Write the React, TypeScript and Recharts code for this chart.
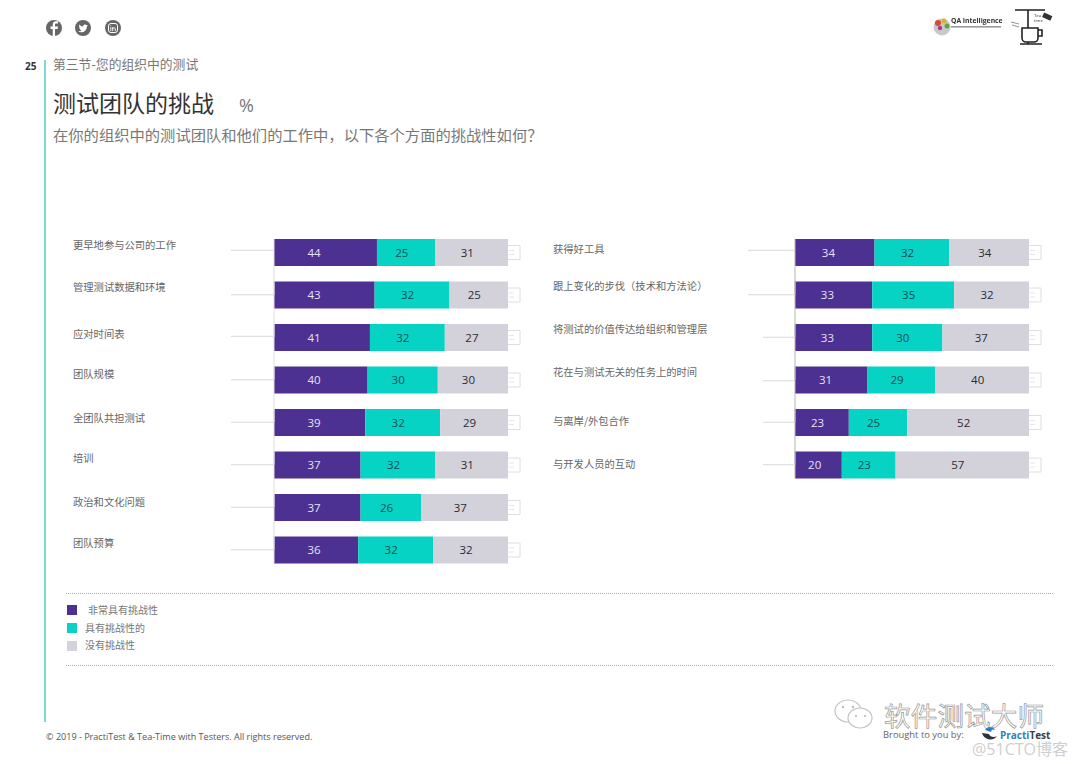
import React from "react"
import { Bar, BarChart, LabelList, Rectangle, XAxis, YAxis } from "recharts"

const seriesNames = ["非常具有挑战性", "具有挑战性的", "没有挑战性"]
const seriesColors = ["#4d3192", "#06d3c3", "#d3d2da"]
const labelColors = ["#e6e2f2", "#0e4f55", "#2b2b33"]

const leftCategories = [
  "更早地参与公司的工作",
  "管理测试数据和环境",
  "应对时间表",
  "团队规模",
  "全团队共担测试",
  "培训",
  "政治和文化问题",
  "团队预算",
]
const leftVery = [44, 43, 41, 40, 39, 37, 37, 36]
const leftSome = [25, 32, 32, 30, 32, 32, 26, 32]
const leftNot = [31, 25, 27, 30, 29, 31, 37, 32]

const rightCategories = [
  "获得好工具",
  "跟上变化的步伐（技术和方法论）",
  "将测试的价值传达给组织和管理层",
  "花在与测试无关的任务上的时间",
  "与离岸/外包合作",
  "与开发人员的互动",
]
const rightVery = [34, 33, 33, 31, 23, 20]
const rightSome = [32, 35, 30, 29, 25, 23]
const rightNot = [34, 32, 37, 40, 52, 57]

// category labels and leader lines sit a little off the bar centre in the original
const leftLabelNudge = [-7, -7, -3, -5, -4, -6, -5, -6]
const leftLineNudge = [-2, 0, -1, 0, 0, 0, 0, 0]
const leftLineLength = [43, 43, 43, 43, 43, 43, 43, 43]
const rightLabelNudge = [-3, -8, -8, -7, -1, 0]
const rightLineNudge = [-2, 0, 0, 1, 0, 0]
const rightLineLength = [47, 47, 32, 32, 32, 32]

const toRows = (names: string[], very: number[], some: number[], not: number[]) =>
  names.map((name, i) => ({ name, very: very[i], some: some[i], not: not[i] }))

const leftRows = toRows(leftCategories, leftVery, leftSome, leftNot)
const rightRows = toRows(rightCategories, rightVery, rightSome, rightNot)

const cjk = '"Noto Sans CJK SC", "Noto Sans", sans-serif'
const latin = '"Open Sans", "Noto Sans", sans-serif'

const BAND = 42.5

const CategoryTick = ({ x, y, index, payload, textBack, labelNudge, lineNudge, lineLength, axisColor, count }: any) => (
  <g>
    {/* the axis only runs from the first bar to the last one */}
    <line
      x1={x}
      x2={x}
      y1={y - 13.5}
      y2={index === count - 1 ? y + 13.5 : y + BAND}
      stroke={axisColor}
      strokeWidth={1}
    />
    <line
      x1={x - lineLength[index]}
      x2={x}
      y1={y + lineNudge[index]}
      y2={y + lineNudge[index]}
      stroke="#d8d8d8"
      strokeWidth={1}
    />
    <text
      x={x - textBack}
      y={y + labelNudge[index]}
      dy="0.35em"
      fontSize={10.3}
      fontFamily={cjk}
      fill="#666"
    >
      {payload.value}
    </text>
  </g>
)

// the last segment carries the small empty callout box at the bar's end
const EndBar = (props: any) => {
  const { x, y, width, height, fill } = props
  const end = x + width
  const mid = y + height / 2
  return (
    <g>
      <path
        d={`M${end} ${mid - 7}H${end + 12}V${mid + 7}H${end}`}
        fill="#fff"
        stroke="#dedede"
        strokeWidth={1}
      />
      <path d={`M${end + 1} ${mid - 2}H${end + 6}M${end + 1} ${mid + 2}H${end + 6}`} stroke="#e6e6e6" />
      <Rectangle x={x} y={y} width={width} height={height} fill={fill} />
    </g>
  )
}

const makeValueLabel = (series: number, firstAnchor: (w: number) => number) => (props: any) => {
  const { x, y, width, height, value } = props
  const cx = series === 0 ? x + firstAnchor(width) : x + width / 2 - 4.5
  return (
    <text
      x={cx}
      y={y + height / 2}
      dy="0.36em"
      textAnchor="middle"
      fontSize={11.5}
      fontFamily={latin}
      fill={labelColors[series]}
    >
      {value}
    </text>
  )
}

const StackChart = ({ rows, left, top, width, axisWidth, marginRight, textBack, labelNudge, lineNudge, lineLength, axisColor, firstAnchor }: any) => (
  <div style={{ position: "absolute", left, top }}>
    <BarChart
      width={width}
      height={rows.length * BAND}
      data={rows}
      layout="vertical"
      margin={{ top: 0, right: marginRight, bottom: 0, left: 0 }}
    >
      <XAxis type="number" hide domain={[0, 100]} />
      <YAxis
        type="category"
        dataKey="name"
        width={axisWidth}
        interval={0}
        tickLine={false}
        tickSize={0}
        tickMargin={0}
        axisLine={false}
        tick={(p: any) => (
          <CategoryTick
            {...p}
            textBack={textBack}
            labelNudge={labelNudge}
            lineNudge={lineNudge}
            lineLength={lineLength}
            axisColor={axisColor}
            count={rows.length}
          />
        )}
      />
      <Bar dataKey="very" stackId="a" barSize={27} fill={seriesColors[0]} isAnimationActive={false}>
        <LabelList dataKey="very" content={makeValueLabel(0, firstAnchor)} />
      </Bar>
      <Bar dataKey="some" stackId="a" barSize={27} fill={seriesColors[1]} isAnimationActive={false}>
        <LabelList dataKey="some" content={makeValueLabel(1, firstAnchor)} />
      </Bar>
      <Bar dataKey="not" stackId="a" barSize={27} fill={seriesColors[2]} shape={EndBar} isAnimationActive={false}>
        <LabelList dataKey="not" content={makeValueLabel(2, firstAnchor)} />
      </Bar>
    </BarChart>
  </div>
)

const Txt = ({ x, y, size, color, font, weight, children, extra }: any) => (
  <div
    style={{
      position: "absolute",
      left: x,
      top: y,
      fontSize: size,
      color,
      fontFamily: font || cjk,
      fontWeight: weight || 400,
      lineHeight: 1,
      whiteSpace: "nowrap",
      transform: "translateY(-50%)",
      ...extra,
    }}
  >
    {children}
  </div>
)

const SocialIcons = () => (
  <svg style={{ position: "absolute", left: 0, top: 0 }} width={140} height={50}>
    <circle cx={54} cy={28} r={8} fill="#666" />
    <path d="M55 36v-7h2.6l.4-2.6h-3v-1.6c0-.8.3-1.2 1.3-1.2H58v-2.3c-.4 0-1.2-.1-2-.1-2 0-3.3 1.2-3.3 3.4v1.8h-2.2V29h2.2v7z" fill="#fff" />
    <circle cx={83} cy={28} r={8} fill="#666" />
    <path d="M78 31.5c3.6 1.8 8.6.6 9-5.2l1-1.2-1.3.2c-.9-1.4-3.4-1-3.6 1.1-1.5 0-2.8-.7-3.8-1.9-.5 1.1-.2 2.2.6 2.9l-.8-.2c0 1 .7 1.8 1.6 2.1l-.8.1c.3.7 1 1.2 1.8 1.2-1 .7-2.2.9-3.7.9z" fill="#fff" />
    <circle cx={113} cy={28} r={8} fill="#666" />
    <rect x={108.5} y={23.5} width={9} height={9} rx={2.4} fill="none" stroke="#fff" strokeWidth={1} />
    <path d="M110.8 27v4M110.8 25.2v.6M112.7 31v-4M112.7 28.6c.5-1.2 2.6-1.2 2.6.4v2" fill="none" stroke="#fff" strokeWidth={0.9} />
  </svg>
)

const TopLogos = () => (
  <svg style={{ position: "absolute", left: 925, top: 0, filter: "blur(0.5px)" }} width={135} height={52}>
    <circle cx={17} cy={27} r={8.5} fill="#c9c9c9" />
    <circle cx={13} cy={23} r={3} fill="#d84a3a" />
    <circle cx={19} cy={21} r={2.5} fill="#e0b030" />
    <circle cx={22} cy={26} r={2.5} fill="#5aa84a" />
    <circle cx={15} cy={28} r={2.2} fill="#b03a8a" />
    <text x={26} y={23} fontSize={6.8} fontWeight={700} fontFamily={latin} fill="#333">QA Intelligence</text>
    <rect x={26} y={26} width={50} height={1.6} fill="#999" />
    <path d="M90 10h30M103 10v34M95 44h22" stroke="#222" strokeWidth={1.6} fill="none" />
    <path d="M97 28h16v10a4 4 0 0 1-4 4h-8a4 4 0 0 1-4-4zM113 30h4v6h-4" stroke="#222" strokeWidth={1.6} fill="#fff" />
    <path d="M86 22l8 2M87 25l7 2" stroke="#999" strokeWidth={1.2} />
    <text x={109} y={17} fontSize={4.2} fill="#333" fontFamily={latin}>Tea</text>
    <text x={109} y={22} fontSize={4.2} fill="#333" fontFamily={latin}>time</text>
    <rect x={118} y={14} width={9} height={5} fill="#333" transform="rotate(25 122 16)" />
  </svg>
)

const Watermark = () => (
  <>
    <svg style={{ position: "absolute", left: 830, top: 695 }} width={48} height={42}>
      <ellipse cx={18} cy={16} rx={13} ry={11} fill="#fff" stroke="#c4c4c4" strokeWidth={1.2} />
      <ellipse cx={30} cy={23} rx={12} ry={10} fill="#fff" stroke="#c4c4c4" strokeWidth={1.2} />
      <circle cx={13} cy={12} r={1.2} fill="#bbb" />
      <circle cx={23} cy={12} r={1.2} fill="#bbb" />
      <circle cx={26} cy={21} r={1.1} fill="#bbb" />
      <circle cx={35} cy={21} r={1.1} fill="#bbb" />
    </svg>
    <Txt x={884} y={715} size={26.5} color="#fff" extra={{ WebkitTextStroke: "0.7px #999", letterSpacing: 0.2 }}>
      软件测试大师
    </Txt>
    <Txt x={883} y={735} size={9.4} color="#666" font={latin}>Brought to you by:</Txt>
    <svg style={{ position: "absolute", left: 980, top: 725 }} width={20} height={18}>
      <path d="M2 8c2 7 11 9 15 3-3 2-7 1-8-2z" fill="#2f3338" />
      <path d="M5 5c2-4 8-4 10 0l-3-.5-1 2.5z" fill="#2f7fc0" />
    </svg>
    <Txt x={1000} y={735} size={10} color="#2f7fc0" font={latin} weight={700}>
      Practi<span style={{ color: "#3a3f45" }}>Test</span>
    </Txt>
    <Txt x={972} y={748} size={16} color="#cfcfcf" font={latin}>
      @51CTO<span style={{ fontFamily: cjk }}>博客</span>
    </Txt>
  </>
)

export default function App() {
  return (
    <div style={{ position: "absolute", left: 0, top: 0, width: 1080, height: 764, overflow: "hidden", background: "#fff" }}>
      <SocialIcons />
      <TopLogos />

      <div style={{ position: "absolute", left: 44, top: 60, width: 2, height: 662, background: "#7ed9d2" }} />
      <Txt x={25} y={65.5} size={10} color="#333" font={latin} weight={700}>25</Txt>
      <Txt x={53} y={64} size={12.8} color="#777">第三节-您的组织中的测试</Txt>
      <Txt x={53} y={101.5} size={23} color="#333">测试团队的挑战</Txt>
      <Txt x={239} y={105} size={18} color="#777" font={latin}>%</Txt>
      <Txt x={53} y={134.5} size={15.3} color="#777">在你的组织中的测试团队和他们的工作中，以下各个方面的挑战性如何？</Txt>

      <StackChart
        rows={leftRows}
        left={60}
        top={231}
        width={470}
        axisWidth={214}
        marginRight={22}
        textBack={201}
        labelNudge={leftLabelNudge}
        lineNudge={leftLineNudge}
        lineLength={leftLineLength}
        axisColor="#dddddd"
        firstAnchor={() => 40}
      />
      <StackChart
        rows={rightRows}
        left={545}
        top={231}
        width={510}
        axisWidth={250}
        marginRight={26}
        textBack={242}
        labelNudge={rightLabelNudge}
        lineNudge={rightLineNudge}
        lineLength={rightLineLength}
        axisColor="#b5b5b5"
        firstAnchor={(w: number) => w * 0.42}
      />

      <div style={{ position: "absolute", left: 66, top: 593, width: 987, borderTop: "1px dotted #aaa" }} />
      <div style={{ position: "absolute", left: 66, top: 665, width: 987, borderTop: "1px dotted #aaa" }} />
      {seriesNames.map((name, i) => (
        <React.Fragment key={name}>
          <div style={{ position: "absolute", left: 67, top: 605 + i * 18, width: 10, height: 10, background: seriesColors[i] }} />
          <Txt x={i === 0 ? 88 : 85} y={610 + i * 17.5} size={10} color="#777">{name}</Txt>
        </React.Fragment>
      ))}

      <Txt x={46} y={737} size={9.05} color="#555" font={latin}>
        © 2019 - PractiTest &amp; Tea-Time with Testers. All rights reserved.
      </Txt>
      <Watermark />
    </div>
  )
}
